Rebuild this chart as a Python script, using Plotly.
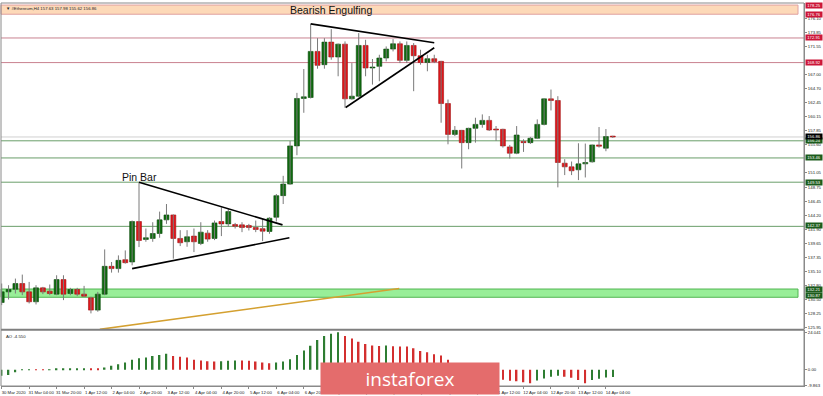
import pandas as pd
import plotly.graph_objects as go

# ---------------- data ----------------
t0 = pd.Timestamp("2020-03-30 12:00")
times = pd.date_range(t0, periods=90, freq="4h")

open_ = [130.03, 131.75, 132.18, 133.10, 131.75, 130.14, 132.40, 131.86, 131.38, 133.74,
         131.48, 132.13, 131.38, 130.78, 128.79, 131.38, 135.89, 135.52, 136.97, 136.59,
         143.15, 140.25, 140.41, 141.21, 143.42, 144.22, 140.41, 139.87, 140.79, 139.60,
         141.27, 140.41, 143.15, 142.77, 142.66, 142.61, 142.50, 142.18, 142.00, 141.54,
         143.85, 147.35, 149.22, 155.41, 163.10, 163.26, 170.73, 168.58, 172.24, 169.82,
         171.91, 163.04, 163.47, 171.70, 168.04, 168.31, 169.66, 171.11, 171.97, 169.28,
         171.70, 170.03, 168.95, 169.55, 169.12, 162.28, 157.28, 157.93, 155.94, 158.26,
         158.90, 159.55, 158.15, 158.10, 155.25, 154.23, 156.11, 155.94, 156.65, 158.90,
         163.04, 162.77, 152.61, 152.02, 151.54, 152.50, 152.83, 155.57, 155.04, 156.95]
high = [133.10, 132.83, 133.90, 134.55, 133.36, 132.83, 132.56, 132.94, 134.44, 134.44,
        132.40, 132.40, 132.72, 130.95, 131.75, 138.63, 136.59, 137.66, 138.47, 143.31,
        149.49, 142.02, 143.04, 144.76, 145.99, 144.30, 141.75, 141.75, 142.02, 143.04,
        141.75, 143.31, 145.45, 145.18, 142.93, 143.04, 142.77, 143.31, 143.58, 143.85,
        147.61, 150.56, 156.22, 164.01, 167.88, 175.14, 172.88, 172.88, 174.34, 172.00,
        172.35, 168.84, 173.70, 172.61, 169.50, 170.19, 171.54, 172.72, 172.35, 172.35,
        172.08, 171.00, 170.19, 170.19, 169.20, 162.93, 158.63, 158.00, 158.36, 159.98,
        160.52, 160.25, 158.63, 158.20, 155.57, 158.63, 156.49, 156.87, 159.71, 163.10,
        164.55, 163.47, 153.26, 152.88, 155.84, 155.79, 155.62, 158.47, 158.15, 157.05]
low = [129.60, 130.51, 131.48, 131.21, 129.87, 129.71, 131.38, 131.21, 131.21, 130.41,
       131.21, 131.05, 130.95, 128.26, 128.53, 131.21, 134.87, 134.87, 136.32, 136.05,
       139.01, 139.87, 139.87, 140.52, 142.77, 137.13, 139.17, 139.06, 138.20, 139.33,
       139.87, 140.14, 140.79, 142.29, 142.02, 141.43, 141.70, 141.43, 139.98, 141.16,
       143.15, 145.99, 149.10, 153.90, 160.78, 163.10, 167.93, 167.93, 169.39, 166.70,
       161.59, 162.90, 163.30, 166.70, 165.35, 165.89, 169.12, 170.73, 168.84, 168.84,
       164.28, 168.58, 167.51, 168.84, 159.17, 155.67, 157.01, 151.75, 154.87, 155.94,
       158.36, 157.83, 156.22, 155.14, 153.37, 154.07, 154.44, 155.73, 156.60, 158.74,
       161.16, 148.69, 150.68, 150.68, 149.87, 150.30, 152.70, 155.14, 154.55, 156.70]
close = [131.75, 132.13, 133.10, 131.75, 130.14, 132.40, 131.75, 131.48, 133.74, 131.38,
         132.13, 131.38, 131.05, 128.79, 131.38, 135.89, 135.52, 136.86, 136.48, 143.15,
         140.08, 140.52, 141.21, 143.42, 144.22, 140.41, 139.71, 140.68, 139.87, 141.43,
         140.30, 142.93, 142.77, 144.76, 142.39, 142.18, 142.18, 141.86, 141.59, 143.69,
         147.35, 149.22, 155.41, 163.10, 163.37, 170.73, 168.47, 172.24, 169.82, 171.91,
         163.04, 163.47, 171.70, 168.04, 168.20, 169.66, 171.11, 171.97, 169.28, 171.70,
         170.03, 168.95, 169.55, 169.06, 162.28, 157.28, 157.93, 155.94, 158.26, 158.90,
         159.55, 157.99, 157.99, 155.41, 154.23, 157.18, 155.94, 156.65, 158.90, 163.04,
         162.77, 152.72, 152.02, 151.38, 152.50, 152.72, 155.57, 155.36, 156.92, 156.86]
ao = [-3.8, -3.4, -1.6, -0.2, 0.3, 0.2, 0.15, 0.3, 0.45, 0.55,
      0.65, 0.75, 0.85, 0.6, 0.4, 1.5, 2.6, 3.6, 4.7, 6.4,
      7.4, 7.9, 8.9, 9.5, 10.2, 8.9, 8.4, 7.9, 6.4, 6.0,
      5.5, 5.3, 5.4, 5.8, 6.0, 5.9, 5.8, 5.3, 4.7, 4.2,
      4.7, 5.3, 6.8, 9.5, 12.3, 15.4, 19.1, 21.6, 23.0, 24.041,
      21.6, 20.0, 17.9, 16.5, 15.6, 15.3, 15.5, 15.0, 14.9, 14.85,
      13.8, 12.1, 11.3, 10.0, 9.1, 6.4, 3.8, 1.5, -0.5, -2.2,
      -3.6, -4.8, -5.8, -6.4, -7.0, -7.4, -8.0, -8.6, -6.8, -5.6,
      -4.5, -3.8, -4.4, -5.1, -6.6, -8.6, -6.6, -5.7, -5.0, -4.55]

x_tick_bars = list(range(0, 89, 4))
x_tick_labels = ["30 Mar 2020", "31 Mar 04:00", "31 Mar 20:00", "1 Apr 12:00", "2 Apr 04:00",
                 "2 Apr 20:00", "3 Apr 12:00", "4 Apr 04:00", "4 Apr 20:00", "5 Apr 12:00",
                 "6 Apr 04:00", "6 Apr 20:00", "7 Apr 12:00", "8 Apr 04:00", "8 Apr 20:00",
                 "9 Apr 12:00", "10 Apr 04:00", "10 Apr 20:00", "11 Apr 12:00", "12 Apr 04:00",
                 "12 Apr 20:00", "13 Apr 12:00", "14 Apr 04:00"]
price_ticks = [125.95, 128.25, 130.50, 132.80, 135.10, 137.35, 139.65, 141.90, 144.20, 146.45,
               148.75, 151.05, 155.60, 157.85, 160.15, 162.45, 164.70, 167.00, 171.55,
               173.85, 176.10]
ao_ticks = [24.041, 0.0, -9.863]
ao_tick_labels = ["24.041", "0.00", "-9.863"]

resist_zone = (176.76, 178.25)
support_zone = (130.87, 132.21)
red_levels = [172.91, 168.92]
green_levels = [156.24, 153.46, 149.53, 142.37]
last_price = 156.86

# drawings: (bar index, price)
pin_upper = [(20, 149.53), (40.9, 142.61)]
pin_lower = [(19, 135.51), (41.9, 140.51)]
big_upper = [(45, 175.19), (63, 172.13)]
big_lower = [(50.1, 161.64), (63, 171.32)]
trend_line = [(14.3, 125.68), (57.9, 132.29)]
notes = [("Bearish Engulfing", 48.0, 177.5), ("Pin Bar", 20.0, 150.4)]


def T(i):
    return (t0 + pd.Timedelta(hours=4 * i)).strftime("%Y-%m-%d %H:%M:%S")


BAR_MS = 4 * 3600 * 1000
GREEN, RED = "#0f6b0f", "#e0161b"
n = len(times)

fig = go.Figure()

# wicks
wx, wy = [], []
for t, h, l in zip(times, high, low):
    wx += [t, t, None]
    wy += [l, h, None]
fig.add_trace(go.Scatter(x=wx, y=wy, mode="lines", line=dict(color="#7a7a7a", width=1),
                         hoverinfo="skip", xaxis="x", yaxis="y"))

# bodies
for up, fill, edge in [(True, GREEN, "#0a4a0a"), (False, RED, "#a01010")]:
    idx = [i for i in range(n) if (close[i] >= open_[i]) == up]
    fig.add_trace(go.Bar(
        x=[times[i] for i in idx],
        base=[min(open_[i], close[i]) for i in idx],
        y=[max(abs(close[i] - open_[i]), 0.14) for i in idx],
        width=BAR_MS * 0.72,
        marker=dict(color=fill, line=dict(color=edge, width=0.6)),
        xaxis="x", yaxis="y"))

# AO histogram
ao_col = ["#2e7d32" if i == 0 or ao[i] > ao[i - 1] else "#d32f2f" for i in range(n)]
fig.add_trace(go.Bar(x=list(times), y=ao, width=BAR_MS * 0.22,
                     marker=dict(color=ao_col, line=dict(width=0)),
                     xaxis="x", yaxis="y2"))

shapes = []
ZX1 = (799 - 1) / 804
shapes.append(dict(type="rect", xref="paper", yref="y", x0=0, x1=ZX1,
                   y0=resist_zone[0], y1=resist_zone[1], fillcolor="#fdd9b8",
                   line=dict(color="#e0a0a0", width=1), layer="below"))
shapes.append(dict(type="rect", xref="paper", yref="y", x0=0, x1=ZX1,
                   y0=support_zone[0], y1=support_zone[1], fillcolor="#98ee98",
                   line=dict(color="#52b552", width=1), layer="below"))
for lv in red_levels:
    shapes.append(dict(type="line", xref="paper", yref="y", x0=0, x1=1, y0=lv, y1=lv,
                       line=dict(color="#c98290", width=1), layer="below"))
for lv in green_levels:
    shapes.append(dict(type="line", xref="paper", yref="y", x0=0, x1=1, y0=lv, y1=lv,
                       line=dict(color="#6a9e6a", width=1), layer="below"))
shapes.append(dict(type="line", xref="paper", yref="y", x0=0, x1=1, y0=last_price, y1=last_price,
                   line=dict(color="#d0d0d0", width=1), layer="below"))

for seg, col, w in [(pin_upper, "#000000", 1.6), (pin_lower, "#000000", 1.6),
                    (big_upper, "#000000", 1.6), (big_lower, "#000000", 1.6),
                    (trend_line, "#d4a030", 1.6)]:
    (a, pa), (b, pb) = seg
    shapes.append(dict(type="line", xref="x", yref="y", x0=T(a), x1=T(b), y0=pa, y1=pb,
                       line=dict(color=col, width=w)))

MAIN_BOT = (388 - 331) / 385
AO_TOP = (388 - 332) / 385
# panel separator and frame
shapes.append(dict(type="line", xref="paper", yref="paper", x0=0, x1=1,
                   y0=(MAIN_BOT + AO_TOP) / 2, y1=(MAIN_BOT + AO_TOP) / 2,
                   line=dict(color="#7f7f7f", width=2)))
shapes.append(dict(type="rect", xref="paper", yref="paper", x0=0, x1=1, y0=0, y1=1,
                   line=dict(color="#8a8a8a", width=1)))

ann = []
small = dict(family="Liberation Sans", size=4.3, color="#222222")
for txt, bi, pr in notes:
    ann.append(dict(x=T(bi), y=pr, xref="x", yref="y", text=txt, showarrow=False,
                    font=dict(family="Liberation Sans", size=10.5, color="#111111")))
ann.append(dict(x=0, y=1, xref="paper", yref="paper", xanchor="left", yanchor="top",
                xshift=3, yshift=-1, text="▼ #Ethereum,H4 157.63 157.98 155.62 156.86",
                showarrow=False, font=small))
ann.append(dict(x=0, y=AO_TOP, xref="paper", yref="paper", xanchor="left", yanchor="top",
                xshift=3, yshift=-1.5, text="AO -4.550", showarrow=False, font=small))

label_boxes = ([(v, "#cc1638") for v in [resist_zone[1], resist_zone[0]] + red_levels] +
               [(v, "#1c5c1c") for v in green_levels + [support_zone[1], support_zone[0]]] +
               [(last_price, "#000000")])
nudge = {142.37: 1.0, 130.87: 1.5, 132.21: -0.5}
for v, bg in label_boxes:
    ann.append(dict(x=1, y=v, xref="paper", yref="y", xanchor="left", yanchor="middle",
                    xshift=1, yshift=nudge.get(v, 0), text=f"{v:.2f}", showarrow=False,
                    bgcolor=bg, width=16, height=4.6, borderpad=0,
                    font=dict(family="Liberation Sans", size=4.2, color="#ffffff")))

# watermark logo box (annotation so it covers axis labels and bars)
ann.append(dict(x=(411 - 1) / 804, y=(388 - 380.5) / 385, xref="paper", yref="paper",
                xanchor="center", yanchor="middle", width=178, height=31, borderpad=0,
                bgcolor="#e46c6c", text="instaforex", showarrow=False,
                font=dict(family="Open Sans", size=19, color="#ffffff")))

fig.update_layout(
    width=823, height=396, margin=dict(l=1, r=18, t=3, b=8),
    paper_bgcolor="white", plot_bgcolor="white", showlegend=False,
    barmode="overlay", shapes=shapes, annotations=ann,
    xaxis=dict(type="date", range=[T(-0.1), T(116.85)], anchor="y2", showgrid=False,
               zeroline=False, showline=True, linecolor="#8a8a8a",
               tickvals=[T(i) for i in x_tick_bars], ticktext=x_tick_labels,
               tickangle=0, ticks="outside", ticklen=2, tickcolor="#8a8a8a", tickfont=small,
               ticklabelshift=12, ticklabelstandoff=0),
    yaxis=dict(domain=[MAIN_BOT, 1], range=[125.68, 178.58], side="right", anchor="x",
               showgrid=False, zeroline=False, showline=True, linecolor="#8a8a8a",
               tickvals=price_ticks, ticktext=[f"{v:.2f}" for v in price_ticks],
               ticks="outside", ticklen=2, tickcolor="#8a8a8a", tickfont=small),
    yaxis2=dict(domain=[0, AO_TOP], range=[-10.38, 25.29], side="right", anchor="x",
                showgrid=False, zeroline=False, showline=True, linecolor="#8a8a8a",
                tickvals=ao_ticks, ticktext=ao_tick_labels,
                ticks="outside", ticklen=2, tickcolor="#8a8a8a", tickfont=small),
)

fig.write_html("out.html")
